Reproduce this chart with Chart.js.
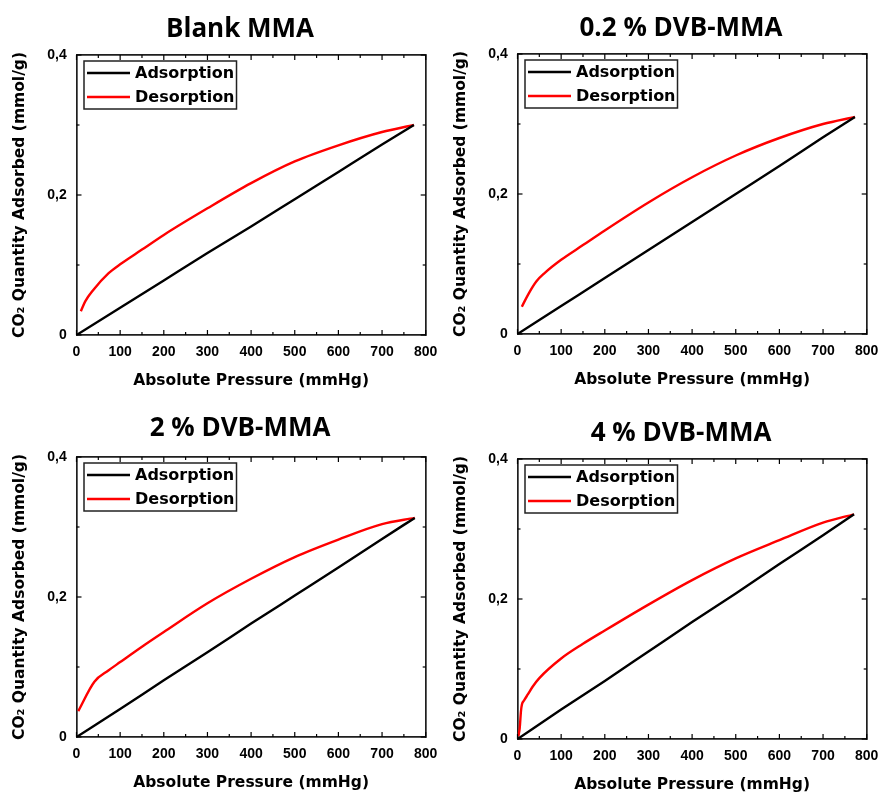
<!DOCTYPE html>
<html><head><meta charset="utf-8">
<script src="https://cdn.jsdelivr.net/npm/chart.js@4.4.0/dist/chart.umd.min.js"></script>
<style>
html,body{margin:0;padding:0;background:#fff;overflow:hidden;}
#wrap{position:relative;width:880px;height:794px;overflow:hidden;background:#fff;}
canvas{position:absolute;}
</style></head><body>
<div id="wrap">
<canvas id="c1" width="480" height="397" style="left:0px;top:0px"></canvas>
<canvas id="c2" width="480" height="397" style="left:441px;top:-1px"></canvas>
<canvas id="c3" width="480" height="397" style="left:0px;top:402px"></canvas>
<canvas id="c4" width="480" height="397" style="left:441px;top:404px"></canvas>
</div>
<script>
// ---------- data ----------
const panelTitles = ['Blank MMA', '0.2 % DVB-MMA', '2 % DVB-MMA', '4 % DVB-MMA'];
const seriesNames = ['Adsorption', 'Desorption'];

const xTickLabels = ['0','','100','','200','','300','','400','','500','','600','','700','','800'];
const yTickLabels = ['0','','0,2','','0,4'];

// Blank MMA
const blankAdsP = [0, 100, 200, 300, 400, 500, 600, 700, 773];
const blankAdsQ = [0, 0.039, 0.078, 0.117, 0.155, 0.194, 0.233, 0.272, 0.300];
const blankDesP = [10, 20, 38, 73, 100, 150, 200, 300, 400, 500, 600, 700, 773];
const blankDesQ = [0.034, 0.048, 0.064, 0.088, 0.101, 0.122, 0.143, 0.181, 0.217, 0.248, 0.271, 0.290, 0.300];

// 0.2 % DVB-MMA
const dvb02AdsP = [0, 100, 200, 300, 400, 500, 600, 700, 773];
const dvb02AdsQ = [0, 0.040, 0.080, 0.120, 0.160, 0.200, 0.240, 0.281, 0.310];
const dvb02DesP = [10, 24, 43, 62, 100, 150, 200, 300, 400, 500, 600, 700, 773];
const dvb02DesQ = [0.039, 0.056, 0.075, 0.087, 0.106, 0.127, 0.148, 0.188, 0.224, 0.255, 0.280, 0.300, 0.310];

// 2 % DVB-MMA
const dvb2AdsP = [0, 100, 200, 300, 400, 500, 600, 700, 775];
const dvb2AdsQ = [0, 0.040, 0.081, 0.121, 0.162, 0.202, 0.242, 0.283, 0.313];
const dvb2DesP = [4, 41, 73, 100, 150, 200, 300, 400, 500, 600, 700, 775];
const dvb2DesQ = [0.037, 0.079, 0.095, 0.107, 0.129, 0.150, 0.191, 0.226, 0.257, 0.282, 0.304, 0.313];

// 4 % DVB-MMA
const dvb4AdsP = [0, 100, 200, 300, 400, 500, 600, 700, 771];
const dvb4AdsQ = [0, 0.042, 0.083, 0.125, 0.167, 0.208, 0.250, 0.291, 0.321];
const dvb4DesP = [2, 5, 8, 10, 15, 24, 35, 50, 100, 150, 200, 300, 400, 500, 600, 700, 771];
const dvb4DesQ = [0.004, 0.015, 0.040, 0.049, 0.055, 0.064, 0.075, 0.087, 0.115, 0.136, 0.155, 0.192, 0.227, 0.258, 0.284, 0.309, 0.321];

// ---------- styling ----------
const FONT = "'DejaVu Sans', 'Liberation Sans', sans-serif";
const TICK_FONT = "'Liberation Sans', Arial, sans-serif";
const TITLE_FONT = "'Open Sans', 'DejaVu Sans', sans-serif";
Chart.defaults.font.family = FONT;
Chart.defaults.color = '#000';

const FRAME = '#1e1e1e';

// inward major/minor tick marks on all four sides, placed by the scales
const innerTicks = {
  id: 'innerTicks',
  afterDraw(chart) {
    const ctx = chart.ctx, ca = chart.chartArea;
    ctx.save();
    ctx.strokeStyle = '#000';
    ctx.lineWidth = 1.2;
    Object.values(chart.scales).forEach(sc => {
      sc.ticks.forEach((t, i) => {
        const len = (i % 2 === 0) ? 5 : 3;
        const p = sc.getPixelForValue(t.value);
        ctx.beginPath();
        if (sc.position === 'bottom') { ctx.moveTo(p, ca.bottom); ctx.lineTo(p, ca.bottom - len); }
        else if (sc.position === 'top') { ctx.moveTo(p, ca.top); ctx.lineTo(p, ca.top + len); }
        else if (sc.position === 'left') { ctx.moveTo(ca.left, p); ctx.lineTo(ca.left + len, p); }
        else if (sc.position === 'right') { ctx.moveTo(ca.right, p); ctx.lineTo(ca.right - len, p); }
        ctx.stroke();
      });
    });
    ctx.restore();
  }
};

// boxed legend inside the plot area (top-left)
const boxLegend = {
  id: 'boxLegend',
  afterDraw(chart) {
    const ctx = chart.ctx, ca = chart.chartArea;
    const dsets = chart.data.datasets;
    ctx.save();
    ctx.font = 'bold 16px ' + FONT;
    const textX = ca.left + 58.5;
    let maxW = 0;
    dsets.forEach(d => { maxW = Math.max(maxW, ctx.measureText(d.label).width); });
    const bx = ca.left + 7.5, by = ca.top + 6, bw = textX + maxW + 2 - bx, bh = 48;
    ctx.fillStyle = '#fff';
    ctx.fillRect(bx, by, bw, bh);
    ctx.strokeStyle = '#222';
    ctx.lineWidth = 1.5;
    ctx.strokeRect(bx, by, bw, bh);
    dsets.forEach((d, i) => {
      const y = ca.top + 18 + i * 24;
      ctx.strokeStyle = d.borderColor;
      ctx.lineWidth = 2.4;
      ctx.beginPath();
      ctx.moveTo(ca.left + 10.5, y);
      ctx.lineTo(ca.left + 53.5, y);
      ctx.stroke();
      ctx.fillStyle = '#000';
      ctx.textBaseline = 'middle';
      ctx.textAlign = 'left';
      ctx.fillText(d.label, textX, y + 0.5);
    });
    ctx.restore();
  }
};

function zip(px, qy) { return px.map((p, i) => ({x: p, y: qy[i]})); }
function fixW(w) { return s => { s.width = w; }; }
function fixH(h) { return s => { s.height = h; }; }

function xAxis(pos, showLabels) {
  return {
    type: 'linear', axis: 'x', position: pos, min: 0, max: 800,
    afterFit: fixH(pos === 'bottom' ? 62 : 9.8),
    ticks: {
      display: showLabels, stepSize: 50, autoSkip: false, maxRotation: 0, padding: 9,
      font: {size: 14, weight: 'bold', family: TICK_FONT}, color: '#000',
      callback: (v, i) => xTickLabels[i]
    },
    grid: {display: false, drawOnChartArea: false, drawTicks: false},
    border: {display: true, color: FRAME, width: 1.7},
    title: showLabels ? {
      display: true, text: 'Absolute Pressure (mmHg)', color: '#000',
      font: {size: 15.5, weight: 'bold', family: FONT, lineHeight: 1.2},
      padding: {top: 0, bottom: 6.7}
    } : {display: false}
  };
}

function yAxis(pos, showLabels) {
  return {
    type: 'linear', axis: 'y', position: pos, min: 0, max: 0.4,
    afterFit: fixW(pos === 'left' ? 76.5 : 54.3),
    ticks: {
      display: showLabels, stepSize: 0.1, autoSkip: false, padding: 9.8,
      font: {size: 14, weight: 'bold', family: TICK_FONT}, color: '#000',
      callback: (v, i) => yTickLabels[i]
    },
    grid: {display: false, drawOnChartArea: false, drawTicks: false},
    border: {display: true, color: FRAME, width: 1.7},
    title: showLabels ? {
      display: true, text: 'CO\u2082 Quantity Adsorbed (mmol/g)', color: '#000',
      font: {size: 15.5, weight: 'bold', family: FONT, lineHeight: 1.2},
      padding: {top: 10.7, bottom: 0}
    } : {display: false}
  };
}

function makeChart(id, title, adsP, adsQ, desP, desQ, titlePadTop) {
  return new Chart(document.getElementById(id), {
    type: 'scatter',
    data: {
      datasets: [
        {label: seriesNames[0], data: zip(adsP, adsQ), showLine: true, borderColor: '#000', backgroundColor: '#000',
         borderWidth: 2.4, pointRadius: 0, cubicInterpolationMode: 'monotone'},
        {label: seriesNames[1], data: zip(desP, desQ), showLine: true, borderColor: '#ff0000', backgroundColor: '#ff0000',
         borderWidth: 2.4, pointRadius: 0, cubicInterpolationMode: 'monotone'}
      ]
    },
    options: {
      responsive: false, animation: false, events: [],
      layout: {padding: 0},
      scales: {
        x: xAxis('bottom', true),
        x2: xAxis('top', false),
        y: yAxis('left', true),
        y2: yAxis('right', false)
      },
      plugins: {
        tooltip: {enabled: false},
        legend: {display: false},
        title: {
          display: true, text: title, color: '#000', align: 'center',
          font: {family: TITLE_FONT, size: 26, weight: 'bold', lineHeight: 1.2},
          padding: {top: titlePadTop, bottom: 14 - titlePadTop}
        }
      }
    },
    plugins: [innerTicks, boxLegend]
  });
}

makeChart('c1', panelTitles[0], blankAdsP, blankAdsQ, blankDesP, blankDesQ, 13.5);
makeChart('c2', panelTitles[1], dvb02AdsP, dvb02AdsQ, dvb02DesP, dvb02DesQ, 13.5);
makeChart('c3', panelTitles[2], dvb2AdsP, dvb2AdsQ, dvb2DesP, dvb2DesQ, 11);
makeChart('c4', panelTitles[3], dvb4AdsP, dvb4AdsQ, dvb4DesP, dvb4DesQ, 13.5);
</script>
</body></html>
